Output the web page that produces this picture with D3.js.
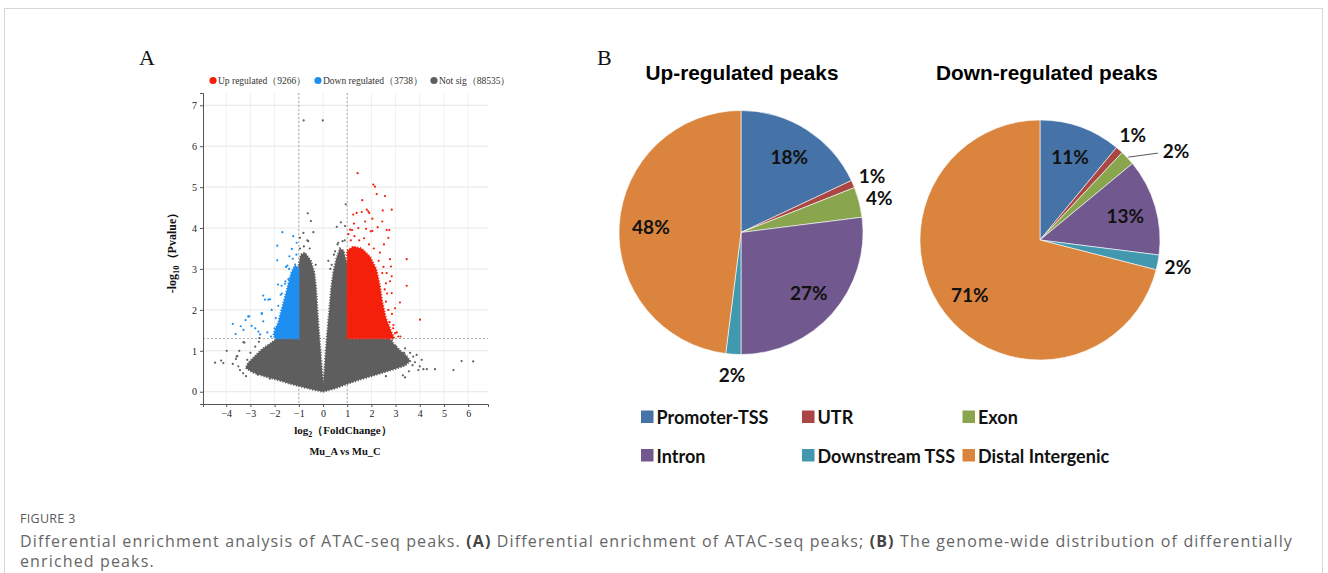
<!DOCTYPE html>
<html>
<head>
<meta charset="utf-8">
<script src="https://cdn.jsdelivr.net/npm/d3@7"></script>
<style>
  html, body { margin: 0; padding: 0; background: #fff; }
  svg { display: block; }
</style>
</head>
<body>
<svg id="fig" width="1328" height="573"></svg>
<script>
// ---------- Panel A: volcano plot (log2 fold change vs -log10 p) ----------
const volcanoLegend = ["Up regulated（9266）", "Down regulated（3738）", "Not sig（88535）"];
const xTicks = [-4, -3, -2, -1, 0, 1, 2, 3, 4, 5, 6];
const yTicks = [0, 1, 2, 3, 4, 5, 6, 7];
const fcCut = 1;          // |log2FC| threshold
const pCut = 1.3;         // -log10(0.05)

// Dense cores of each group, outlined as [log2FC, -log10P]
const notSigCore = [[0,0],[0.5,0.08],[1.0,0.19],[1.5,0.29],[2.0,0.38],[2.5,0.47],[3.0,0.56],[3.4,0.64],[3.6,0.75],[3.45,0.88],[3.2,1.0],[2.95,1.15],[2.75,1.3],[1.0,1.3],[1.0,3.1],[0.85,3.45],[0.7,3.5],[0.55,3.25],[0.42,2.9],[0.33,2.5],[0.26,2.0],[0.18,1.5],[0.11,1.0],[0.06,0.55],[0.02,0.2],[-0.04,0.5],[-0.1,1.0],[-0.17,1.5],[-0.23,2.0],[-0.28,2.5],[-0.35,2.9],[-0.5,3.2],[-0.75,3.4],[-0.92,3.35],[-1.0,3.1],[-1.0,1.3],[-1.9,1.3],[-2.2,1.17],[-2.5,1.05],[-2.8,0.88],[-3.1,0.7],[-3.2,0.58],[-2.9,0.47],[-2.4,0.37],[-1.9,0.29],[-1.4,0.2],[-0.9,0.12],[-0.4,0.05]];
const upCore = [[1.0,1.3],[2.95,1.3],[2.8,1.5],[2.6,1.8],[2.45,2.2],[2.35,2.6],[2.2,3.0],[1.95,3.3],[1.6,3.5],[1.25,3.55],[1.0,3.45]];
const downCore = [[-1.0,1.3],[-2.0,1.3],[-2.05,1.42],[-1.85,1.7],[-1.72,2.0],[-1.58,2.3],[-1.45,2.6],[-1.32,2.9],[-1.15,3.1],[-1.0,3.0]];

// Scattered peaks outside the dense cores
const notSigPoints = [[-0.80,6.63],[-0.01,6.63],[-0.63,4.36],[-0.5,4.17],[-0.4,3.9],[-0.81,3.88],[-0.95,3.76],[-0.61,3.68],[-0.79,3.55],[0.94,4.58],[0.74,4.14],[0.57,4.03],[0.91,4.05],[0.63,3.64],[0.81,3.68],[0.22,3.2],[0.36,3.1],[0.5,3.43],[-0.3,3.1],[-0.55,3.5],[0.3,3.0],[0.45,3.35],[0.9,3.7],[-0.95,3.5],[-0.65,3.7],[0.6,3.6],
  [-3.98,1.0],[-4.46,0.71],[-4.21,0.76],[-4.12,0.7],[-3.73,0.68],[-3.46,1.0],[-3.54,0.87],[-3.25,1.2],[-3.43,0.53],[-3.18,0.38],[-2.98,0.53],[-3.13,0.78],[-2.63,1.31],[-3.29,1.21],[-3.57,0.86],[-3.02,0.65],[-3.3,0.45],[-3.5,0.62],[-3.0,0.95],[-2.8,1.1],[-2.65,1.22],[-3.6,0.8],[-2.7,0.42],[-2.2,0.32],
  [3.39,1.06],[3.87,0.9],[4.08,0.78],[4.15,0.55],[4.63,0.55],[5.39,0.53],[5.73,0.75],[6.21,0.74],[3.39,0.35],[3.73,0.86],[3.94,0.53],[4.29,0.55],[3.55,0.5],[3.7,0.65],[3.35,0.95],[3.0,1.12],[2.85,1.25],[3.8,0.72],[3.6,0.95],[4.0,0.62],[3.3,0.4],[2.6,0.38]];
const upPoints = [[1.43,5.34],[2.08,5.06],[2.15,5.01],[2.22,4.83],[2.56,4.78],[1.62,4.68],[2.84,4.45],[1.81,4.45],[1.87,4.41],[1.91,4.37],[1.6,4.39],[1.25,4.33],[1.39,4.37],[2.47,4.43],[2.45,4.16],[2.04,4.23],[1.74,4.16],[1.28,4.11],[1.12,3.96],[1.46,4.0],[1.78,3.98],[2.26,4.02],[2.63,3.95],[2.74,3.95],[1.97,3.92],[2.04,3.93],[3.46,3.24],[3.46,2.59],[2.7,3.76],[2.52,3.6],[2.77,3.24],[2.81,3.06],[2.63,2.9],[2.84,2.82],[4.01,1.76],[2.77,2.7],[2.84,2.41],[3.18,2.18],[2.98,2.04],[2.91,1.63],[2.98,1.43],[3.11,1.35],
  [2.6,2.2],[2.7,2.0],[2.75,1.7],[2.9,1.55],[3.05,1.45],[2.55,2.5],[2.45,2.9],[2.3,3.2],[2.1,3.5],[1.9,3.6],[1.5,3.7],[1.3,3.8],[1.15,3.7],[1.05,3.85],[2.65,2.4],[2.5,3.05],[3.2,1.35],[2.85,1.9],[2.6,2.65],[2.35,3.4],[1.7,3.75],[1.2,3.95]];
const downPoints = [[-1.68,3.9],[-1.89,3.57],[-1.89,3.21],[-1.23,3.8],[-1.09,3.64],[-1.53,3.05],[-1.86,2.62],[-2.47,2.35],[-2.26,2.25],[-2.19,2.26],[-2.53,1.92],[-3.05,1.84],[-3.73,1.66],[-3.61,1.41],[-3.29,1.51],[-3.09,1.84],[-2.95,1.61],[-2.67,1.47],[-2.53,1.9],[-2.47,1.72],[-2.40,2.25],[-2.12,2.0],[-1.75,2.37],[-1.29,3.49],[-1.39,3.31],[-1.47,3.08],[-1.43,2.75],[-1.57,2.64],[-1.71,2.59],
  [-2.15,1.35],[-2.3,1.45],[-2.0,1.55],[-1.95,1.8],[-1.85,2.1],[-1.7,2.4],[-1.55,2.7],[-1.4,3.0],[-1.25,3.25],[-1.1,3.35],[-2.6,1.4],[-2.8,1.55],[-3.4,1.6],[-3.2,1.75]];

// ---------- Panel B: genomic annotation of differential peaks ----------
const features = ["Promoter-TSS", "UTR", "Exon", "Intron", "Downstream TSS", "Distal Intergenic"];
const upShares = [18, 1, 4, 27, 2, 48];
const downShares = [11, 1, 2, 13, 2, 71];
const pieTitles = ["Up-regulated peaks", "Down-regulated peaks"];
const featureColors = ["#4572a7", "#aa4643", "#89a54e", "#71588f", "#4198af", "#db843d"];

const captionHead = "FIGURE 3";

const svg = d3.select("#fig");

// outer frame
svg.append("rect").attr("x", 4.5).attr("y", 8.5).attr("width", 1318).attr("height", 620)
  .attr("fill", "none").attr("stroke", "#d6d6d6");

// ===== Panel A =====
const serif = "'Liberation Serif', 'Times New Roman', serif";
svg.append("text").attr("x", 139).attr("y", 65).attr("font-family", serif)
  .attr("font-size", 22).attr("fill", "#111").text("A");

const x = d3.scaleLinear().domain([-4.96, 6.82]).range([203, 488]);
const y = d3.scaleLinear().domain([-0.3, 7.3]).range([404, 93]);
const gA = svg.append("g");

// grid
gA.append("g").selectAll("line").data(xTicks).join("line")
  .attr("x1", d => x(d)).attr("x2", d => x(d)).attr("y1", y(7.3)).attr("y2", y(-0.3))
  .attr("stroke", "#f0f0f0").attr("stroke-width", 1);
gA.append("g").selectAll("line").data(yTicks).join("line")
  .attr("x1", x(-4.96)).attr("x2", x(6.82)).attr("y1", d => y(d)).attr("y2", d => y(d))
  .attr("stroke", "#e6e6e6").attr("stroke-width", 1);

// threshold lines
const dash = gA.append("g").attr("stroke", "#9a9a9a").attr("stroke-width", 0.8).attr("stroke-dasharray", "2,2");
dash.selectAll("line.v").data([-fcCut, fcCut]).join("line").attr("class", "v")
  .attr("x1", d => x(d)).attr("x2", d => x(d)).attr("y1", y(7.3)).attr("y2", y(-0.3));
dash.append("line").attr("x1", x(-4.96)).attr("x2", x(6.82)).attr("y1", y(pCut)).attr("y2", y(pCut));

// point groups
const groups = [
  { core: notSigCore, pts: notSigPoints, color: "#5e5e5e" },
  { core: upCore, pts: upPoints, color: "#f4200c" },
  { core: downCore, pts: downPoints, color: "#1e8ff0" }
];
const line = d3.line().x(d => x(d[0])).y(d => y(d[1])).curve(d3.curveLinearClosed);
groups.forEach(gr => {
  gA.append("path").attr("d", line(gr.core)).attr("fill", gr.color)
    .attr("stroke", gr.color).attr("stroke-width", 2).attr("stroke-dasharray", "1.2,1.6");
  gA.append("g").selectAll("circle").data(gr.pts).join("circle")
    .attr("cx", d => x(d[0])).attr("cy", d => y(d[1])).attr("r", 1.1).attr("fill", gr.color);
});

// axes
const axL = gA.append("g").attr("transform", `translate(${x(-4.96)},0)`)
  .call(d3.axisLeft(y).tickValues(yTicks).tickSize(3).tickPadding(3));
const axB = gA.append("g").attr("transform", `translate(0,${y(-0.3)})`)
  .call(d3.axisBottom(x).tickValues(xTicks).tickSize(3).tickPadding(3));
[axL, axB].forEach(a => {
  a.selectAll("path, line").attr("stroke", "#555");
  a.selectAll("text").attr("font-family", serif).attr("font-size", 10).attr("fill", "#222");
});

// axis titles
const yl = gA.append("text").attr("transform", `translate(176,250) rotate(-90)`)
  .attr("text-anchor", "middle").attr("font-family", serif).attr("font-weight", "bold")
  .attr("font-size", 12).attr("fill", "#111");
yl.append("tspan").text("-log");
yl.append("tspan").attr("font-size", 8.5).attr("dy", 3).text("10");
yl.append("tspan").attr("dy", -3).text("（Pvalue）");

const xl = gA.append("text").attr("x", 343).attr("y", 434).attr("text-anchor", "middle")
  .attr("font-family", serif).attr("font-weight", "bold").attr("font-size", 11).attr("fill", "#111");
xl.append("tspan").text("log");
xl.append("tspan").attr("font-size", 8).attr("dy", 3).text("2");
xl.append("tspan").attr("dy", -3).text("（FoldChange）");

gA.append("text").attr("x", 345).attr("y", 455).attr("text-anchor", "middle")
  .attr("font-family", serif).attr("font-weight", "bold").attr("font-size", 10.5).attr("fill", "#111")
  .text("Mu_A vs Mu_C");

// legend
const legX = [213, 318, 434];
const legColors = ["#f4200c", "#1e8ff0", "#5e5e5e"];
volcanoLegend.forEach((t, i) => {
  gA.append("circle").attr("cx", legX[i]).attr("cy", 80.5).attr("r", 3.6).attr("fill", legColors[i]);
  gA.append("text").attr("x", legX[i] + 5).attr("y", 84).attr("font-family", serif)
    .attr("font-size", 9.5).attr("fill", "#333").text(t);
});

// ===== Panel B =====
svg.append("text").attr("x", 597).attr("y", 65).attr("font-family", serif)
  .attr("font-size", 22).attr("fill", "#111").text("B");

const sans = "'Liberation Sans', Arial, sans-serif";
const lab = "Lato, 'Open Sans', sans-serif";
const pies = [
  { title: pieTitles[0], values: upShares, cx: 741, cy: 232.5, r: 122, tx: 742 },
  { title: pieTitles[1], values: downShares, cx: 1040, cy: 240, r: 120, tx: 1047 }
];
const pie = d3.pie().sort(null).value(d => d);

pies.forEach(p => {
  svg.append("text").attr("x", p.tx).attr("y", 80).attr("text-anchor", "middle")
    .attr("font-family", sans).attr("font-weight", "bold").attr("font-size", 20.8)
    .attr("fill", "#000").text(p.title);

  const g = svg.append("g").attr("transform", `translate(${p.cx},${p.cy})`);
  const arcs = pie(p.values);
  const arc = d3.arc().innerRadius(0).outerRadius(p.r);
  g.selectAll("path").data(arcs).join("path").attr("d", arc)
    .attr("fill", (d, i) => featureColors[i]).attr("stroke", "#fff").attr("stroke-width", 0.6);

  // percentage labels: large slices inside, small ones just outside
  let prevOut = -Infinity;
  arcs.forEach(a => {
    const share = a.data;
    const mid = (a.startAngle + a.endAngle) / 2;
    const txt = share + "%";
    const t = g.append("text").attr("font-family", lab).attr("font-weight", "bold")
      .attr("font-size", 19).attr("fill", "#111").text(txt);
    if (share >= 8) {
      const k = 0.74 * p.r;
      t.attr("x", k * Math.sin(mid)).attr("y", -k * Math.cos(mid))
        .attr("text-anchor", "middle").attr("dominant-baseline", "central");
    } else if ((mid - prevOut) * 180 / Math.PI < 7) {
      // crowded: pull out with a leader line
      const a0 = mid, a1 = mid + 6.8 * Math.PI / 180;
      const r0 = p.r + 1, r1 = p.r * 1.22;
      const x0 = r0 * Math.sin(a0), y0 = -r0 * Math.cos(a0);
      const x1 = r1 * Math.sin(a1), y1 = -r1 * Math.cos(a1);
      g.append("line").attr("x1", x0).attr("y1", y0).attr("x2", x1).attr("y2", y1)
        .attr("stroke", "#595959").attr("stroke-width", 1);
      t.attr("x", x1 + 5).attr("y", y1 - 3).attr("text-anchor", "start").attr("dominant-baseline", "central");
      prevOut = a1;
    } else {
      const k = 1.17 * p.r;
      t.attr("x", k * Math.sin(mid)).attr("y", -k * Math.cos(mid))
        .attr("text-anchor", "middle").attr("dominant-baseline", "central");
      prevOut = mid;
    }
  });
});

// legend
const legCols = [641, 802, 962.5];
const legRows = [416.5, 455];
features.forEach((f, i) => {
  const cx = legCols[i % 3], cy = legRows[Math.floor(i / 3)];
  svg.append("rect").attr("x", cx).attr("y", cy - 6).attr("width", 12.5).attr("height", 12.5)
    .attr("fill", featureColors[i]);
  svg.append("text").attr("x", cx + 15.5).attr("y", cy + 0.5).attr("dominant-baseline", "central")
    .attr("font-family", lab).attr("font-weight", "bold").attr("font-size", 18)
    .attr("fill", "#111").text(f);
});

// ===== Caption =====
const capFont = "'Open Sans', 'Noto Sans', sans-serif";
svg.append("text").attr("x", 20).attr("y", 523).attr("font-family", capFont)
  .attr("font-size", 12.5).attr("fill", "#5a5a5a").attr("letter-spacing", 0.3).text(captionHead);
const cap1 = svg.append("text").attr("x", 20).attr("y", 547).attr("font-family", capFont)
  .attr("font-size", 16).attr("fill", "#666");
cap1.append("tspan").text("Differential enrichment analysis of ATAC-seq peaks. ");
cap1.append("tspan").attr("font-weight", "bold").attr("fill", "#444").text("(A)");
cap1.append("tspan").text(" Differential enrichment of ATAC-seq peaks; ");
cap1.append("tspan").attr("font-weight", "bold").attr("fill", "#444").text("(B)");
cap1.append("tspan").text(" The genome-wide distribution of differentially");
// spread the first line across the caption width
const capWidth = 1273;
const natural = cap1.node().getComputedTextLength();
const nChars = cap1.text().length;
const spacing = Math.max(0, (capWidth - natural) / nChars);
cap1.attr("letter-spacing", spacing);
svg.append("text").attr("x", 20).attr("y", 567).attr("font-family", capFont)
  .attr("font-size", 16).attr("fill", "#666")
  .attr("letter-spacing", spacing).text("enriched peaks.");
</script>
</body>
</html>
